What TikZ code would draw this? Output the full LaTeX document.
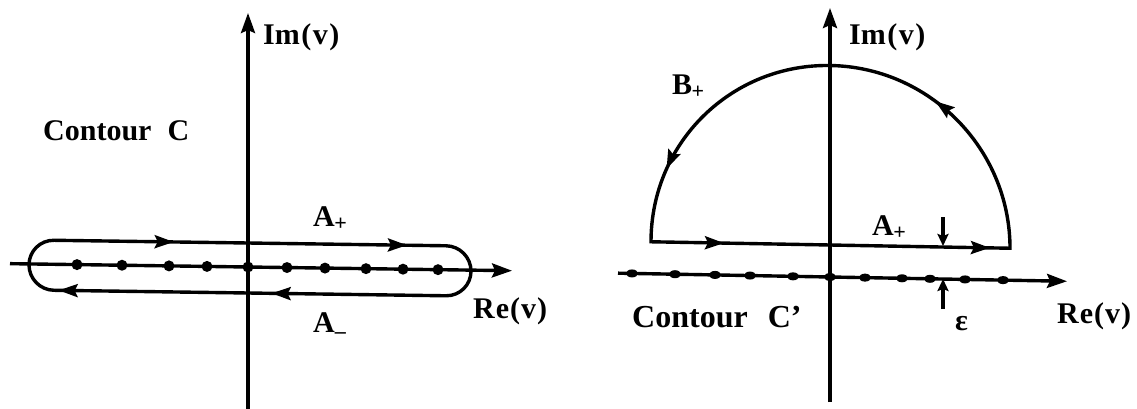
\documentclass[tikz,border=0pt]{standalone}
\usepackage{fontspec}
\setmainfont{Liberation Serif}
\usetikzlibrary{arrows.meta,decorations.markings,shapes.geometric}
\tikzset{
  ln/.style={line width=3.4pt},
  axisarrow/.style={ln,-{Stealth[length=20pt,width=14pt,inset=3pt]}},
  smallarrow/.style={ln,-{Stealth[length=12pt,width=11pt,inset=2pt]}},
  midtip/.tip={Stealth[length=19pt,width=13pt,inset=3pt]},
  lbl/.style={inner sep=0pt,anchor=base west,font=\bfseries\fontsize{30}{32}\selectfont},
  lblbig/.style={lbl,font=\bfseries\fontsize{32}{34}\selectfont},
  dotL/.style={fill,circle,inner sep=0pt,minimum size=11pt},
  dotR/.style={fill,ellipse,inner sep=0pt,minimum width=12pt,minimum height=8pt},
}
\newcommand{\subplus}{\kern-0.5pt\raisebox{-4pt}{\fontsize{22}{22}\selectfont +}}
\newcommand{\subminus}{\kern0pt\raisebox{-6pt}{\fontsize{22}{22}\selectfont –}}
\begin{document}
\begin{tikzpicture}[x=1pt,y=-1pt]
\useasboundingbox (0,0) rectangle (1137,409);

% ---------------- left diagram ----------------
\begin{scope}[shift={(248,267)},yslant=-0.014]
  \coordinate (L0) at (0,0);
  \coordinate (Lxl) at (-238,0);
  \coordinate (Lxr) at (264,0);
  \coordinate (Lyb) at (0,142);
  \coordinate (Lyt) at (0,-254);
  \draw[axisarrow] (Lxl) -- (Lxr);
  \draw[axisarrow] (Lyb) -- (Lyt);
  \draw[ln,rounded corners=25pt,postaction={decorate},
        decoration={markings,
          mark=at position 134pt with {\arrow{midtip}},
          mark=at position 426pt with {\arrow{midtip}},
          mark=at position 639pt with {\arrow{midtip}},
          mark=at position 842pt with {\arrow{midtip}}}]
    (0,-24) -- (223,-24) -- (223,26) -- (-219,26) -- (-219,-24) -- cycle;
  \foreach \x [count=\i] in {-171,-126,-79,-41,0,39,77,118,155,190}
    \node[dotL] (ld\i) at (\x,0) {};
\end{scope}

\node[lbl] (imL) at (263,45) {Im\kern1.5pt(\kern1.5pt v\kern1.5pt)};
\node[lbl] (contC) at (43,140) {Contour\hspace{16pt}C};
\node[lbl] (apL) at (313,226) {A\subplus};
\node[lbl] (amL) at (313,332) {A\subminus};
\node[lbl] (reL) at (473,318) {R\kern1pt e\kern1pt(\kern1pt v\kern1pt)};

% ---------------- right diagram ----------------
\begin{scope}[shift={(830,277)},yslant=-0.018]
  \coordinate (R0) at (0,0);
  \coordinate (Rxl) at (-212,0);
  \coordinate (Rxr) at (237,0);
  \coordinate (Ryb) at (0,125);
  \coordinate (Ryt) at (0,-269);
  \draw[axisarrow] (Rxl) -- (Rxr);
  \draw[axisarrow] (Ryb) -- (Ryt);
  \draw[ln,postaction={decorate},
        decoration={markings,
          mark=at position 73pt with {\arrow{midtip}},
          mark=at position 339pt with {\arrow{midtip}},
          mark=at position 530pt with {\arrow{midtip}},
          mark=at position 848pt with {\arrow{midtip}}}]
    (-179,-32) -- (180,-32) arc[start angle=0,end angle=-180,radius=179.5] -- cycle;
  \foreach \x [count=\i] in {-198,-155,-115,-80,-37,0,35,72,100,135,173}
    \node[dotR] (rd\i) at (\x,0) {};
\end{scope}

\coordinate (eTop) at (943,217);
\coordinate (eTopTip) at (943,246);
\coordinate (eBot) at (943,309);
\coordinate (eBotTip) at (943,279);
\draw[smallarrow] (eTop) -- (eTopTip);
\draw[smallarrow] (eBot) -- (eBotTip);

\node[lbl] (imR) at (849,45) {Im\kern1.5pt(\kern1.5pt v\kern1.5pt)};
\node[lbl] (bp) at (672,95) {B\subplus};
\node[lbl] (apR) at (872,235) {A\subplus};
\node[lbl] (eps) at (955,330) {ε};
\node[lblbig] (contCp) at (632,327) {Contour\hspace{20pt}C'};
\node[lbl] (reR) at (1057,323) {R\kern1pt e\kern1pt(\kern1pt v\kern1pt)};
\end{tikzpicture}
\end{document}
